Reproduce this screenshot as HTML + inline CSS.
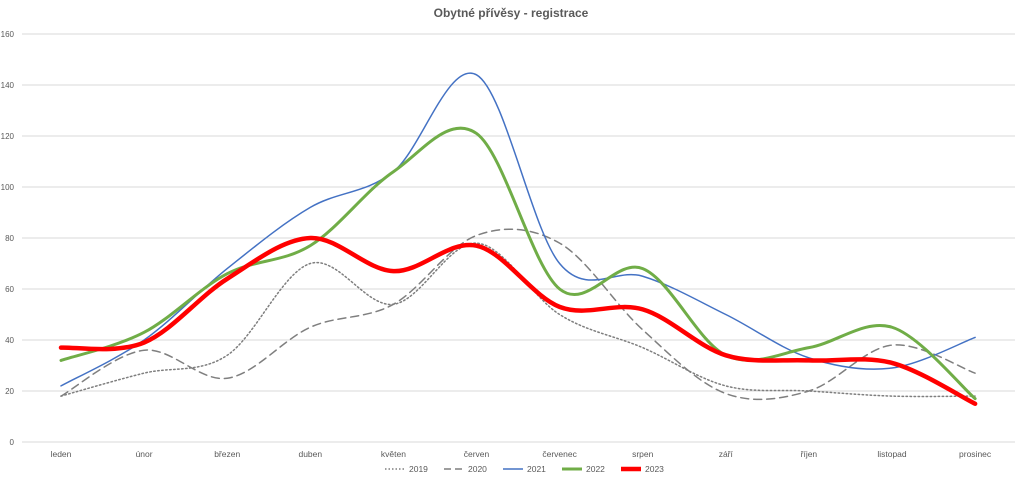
<!DOCTYPE html>
<html><head><meta charset="utf-8"><style>
html,body{margin:0;padding:0;background:#fff;}
svg{display:block;font-family:"Liberation Sans",sans-serif;}
</style></head><body>
<svg id="c" width="1022" height="480" viewBox="0 0 1022 480" xmlns="http://www.w3.org/2000/svg">
<rect width="1022" height="480" fill="#fff"/>
<text x="511" y="17" text-anchor="middle" font-size="12" font-weight="bold" fill="#595959">Obytné přívěsy - registrace</text>
<g id="grid" stroke="#d9d9d9" stroke-width="1"></g>
<g id="ylab" font-size="8" fill="#595959" text-anchor="end"></g>
<g id="xlab" font-size="8.5" fill="#595959" text-anchor="middle"></g>
<g id="series" fill="none" stroke-linecap="round" stroke-linejoin="round"></g>
<g font-size="8.5" fill="#595959">
<line x1="385" y1="469" x2="405" y2="469" stroke="#7f7f7f" stroke-width="1.5" stroke-dasharray="1.5,2"/><text x="409" y="472">2019</text>
<line x1="444" y1="469" x2="464" y2="469" stroke="#7f7f7f" stroke-width="1.5" stroke-dasharray="7,4"/><text x="468" y="472">2020</text>
<line x1="503" y1="469" x2="523" y2="469" stroke="#4472c4" stroke-width="1.5"/><text x="527" y="472">2021</text>
<line x1="562" y1="469" x2="582" y2="469" stroke="#70ad47" stroke-width="3"/><text x="586" y="472">2022</text>
<line x1="621" y1="469" x2="641" y2="469" stroke="#ff0000" stroke-width="4.5"/><text x="645" y="472">2023</text>
</g>
</svg>
<script>
var NS="http://www.w3.org/2000/svg";
function el(p,t,a,txt){var e=document.createElementNS(NS,t);for(var k in a)e.setAttribute(k,a[k]);if(txt!=null)e.textContent=txt;p.appendChild(e);return e;}
var y0=442,sc=2.55;
function Y(v){return y0-v*sc;}
var g=document.getElementById('grid'),yl=document.getElementById('ylab'),xl=document.getElementById('xlab');
for(var v=0;v<=160;v+=20){el(g,'line',{x1:22,x2:1015,y1:Y(v),y2:Y(v)});el(yl,'text',{x:14,y:Y(v)+3},v);}
var months=["leden","únor","březen","duben","květen","červen","červenec","srpen","září","říjen","listopad","prosinec"];
function X(i){return 61+i*83.1;}
months.forEach(function(m,i){el(xl,'text',{x:X(i),y:457},m);});
var S=[
 {d:[18,27,34,70,54,78,50,37,22,20,18,18],c:"#7f7f7f",w:1.5,da:"1.5,2.5"},
 {d:[18,36,25,45,54,81,78,44,19,20,38,27],c:"#7f7f7f",w:1.5,da:"8,5"},
 {d:[22,40,68,92,106,144,70,65,50,33,29,41],c:"#4472c4",w:1.5},
 {d:[32,43,66,77,106,121,60,68,34,37,45,17],c:"#70ad47",w:3},
 {d:[37,39,64,80,67,77,53,52,34,32,31,15],c:"#ff0000",w:4.5}
];
var sg=document.getElementById('series');
S.forEach(function(s){
 var p=s.d.map(function(v,i){return [X(i),Y(v)];});
 var d="M"+p[0][0]+","+p[0][1],t=1/6;
 for(var i=0;i<p.length-1;i++){
  var a=p[i-1]||p[i],b=p[i],c=p[i+1],e=p[i+2]||c;
  d+=" C"+(b[0]+(c[0]-a[0])*t)+","+(b[1]+(c[1]-a[1])*t)+" "+(c[0]-(e[0]-b[0])*t)+","+(c[1]-(e[1]-b[1])*t)+" "+c[0]+","+c[1];
 }
 var at={d:d,stroke:s.c,"stroke-width":s.w};if(s.da)at["stroke-dasharray"]=s.da;
 el(sg,'path',at);
});
</script>
</body></html>
